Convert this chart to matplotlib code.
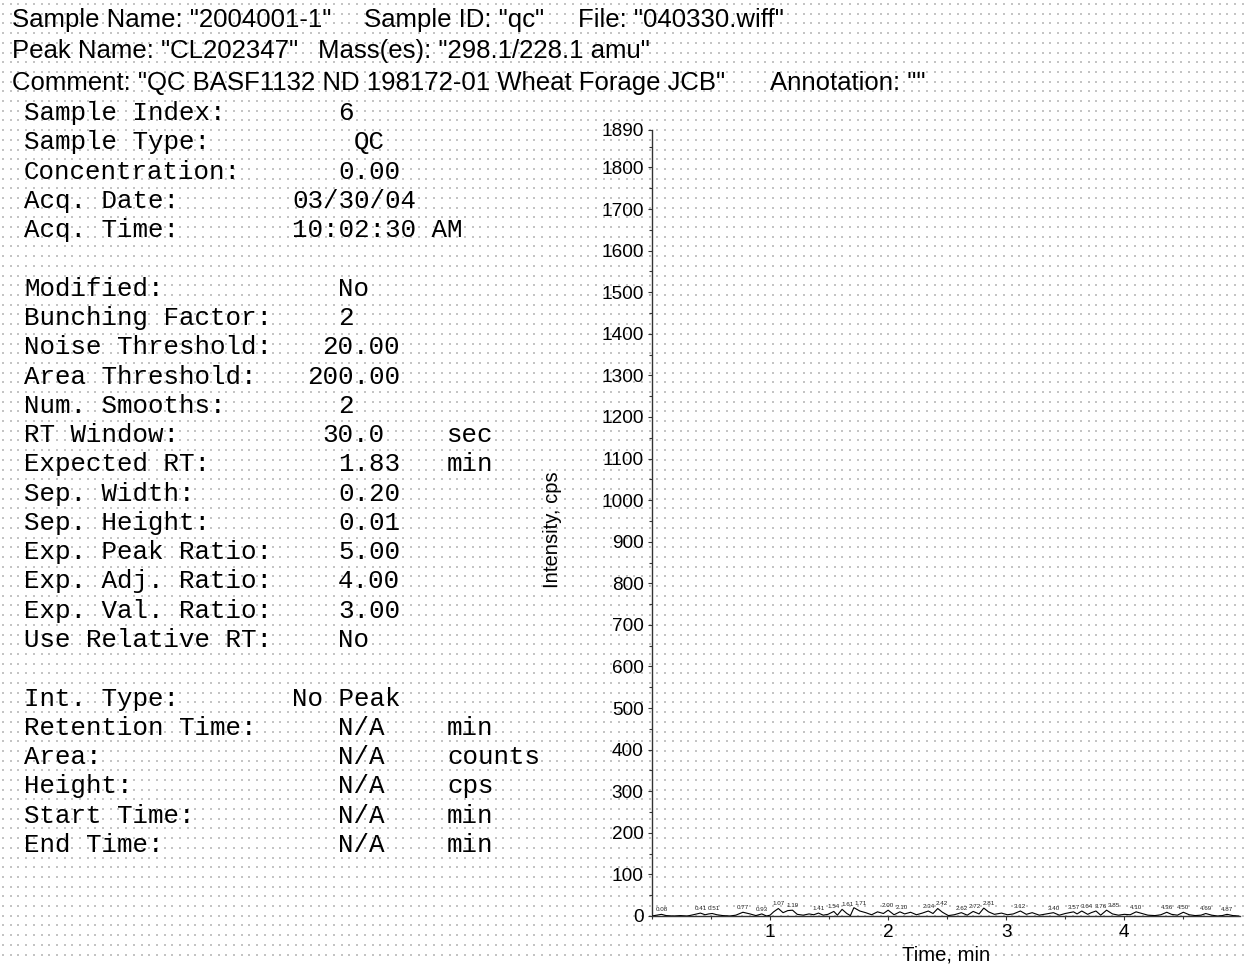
import numpy as np
import matplotlib
matplotlib.use("Agg")
import matplotlib.pyplot as plt
from matplotlib.ticker import MultipleLocator, FixedLocator

W, H = 1244, 964

# header lines: (text, x position in px)
header_rows = [
    [('Sample Name: "2004001-1"', 12), ('Sample ID: "qc"', 364), ('File: "040330.wiff"', 578)],
    [('Peak Name: "CL202347"', 12), ('Mass(es): "298.1/228.1 amu"', 318)],
    [('Comment: "QC BASF1132 ND 198172-01 Wheat Forage JCB"', 12), ('Annotation: ""', 770)],
]
header_y = [20, 51, 83]

# method / result table: label, value, value x, unit
info_labels = ["Sample Index:", "Sample Type:", "Concentration:", "Acq. Date:", "Acq. Time:", "",
               "Modified:", "Bunching Factor:", "Noise Threshold:", "Area Threshold:", "Num. Smooths:",
               "RT Window:", "Expected RT:", "Sep. Width:", "Sep. Height:", "Exp. Peak Ratio:",
               "Exp. Adj. Ratio:", "Exp. Val. Ratio:", "Use Relative RT:", "",
               "Int. Type:", "Retention Time:", "Area:", "Height:", "Start Time:", "End Time:"]
info_values = ["6", "QC", "0.00", "03/30/04", "10:02:30 AM", "",
               "No", "2", "20.00", "200.00", "2",
               "30.0", "1.83", "0.20", "0.01", "5.00",
               "4.00", "3.00", "No", "",
               "No Peak", "N/A", "N/A", "N/A", "N/A", "N/A"]
info_value_x = [338, 354, 338, 292, 292, 0,
                338, 338, 322, 307, 338,
                322, 338, 338, 338, 338,
                338, 338, 338, 0,
                292, 338, 338, 338, 338, 338]
info_units = ["", "", "", "", "", "",
              "", "", "", "", "",
              "sec", "min", "", "", "",
              "", "", "", "",
              "", "min", "counts", "cps", "min", "min"]

# chromatogram trace (time in min, intensity in cps)
trace_time = [0.00, 0.04, 0.08, 0.12, 0.18, 0.24, 0.30, 0.35, 0.41, 0.45, 0.48, 0.51, 0.55, 0.60,
              0.66, 0.71, 0.77, 0.83, 0.88, 0.93, 0.97, 1.00, 1.03, 1.07, 1.11, 1.15, 1.19, 1.23,
              1.28, 1.33, 1.37, 1.41, 1.45, 1.49, 1.54, 1.57, 1.61, 1.65, 1.68, 1.71, 1.76, 1.81,
              1.86, 1.91, 1.96, 2.00, 2.05, 2.10, 2.14, 2.19, 2.24, 2.29, 2.34, 2.38, 2.42, 2.46,
              2.51, 2.56, 2.62, 2.67, 2.72, 2.77, 2.81, 2.85, 2.90, 2.96, 3.01, 3.06, 3.12, 3.17,
              3.22, 3.28, 3.34, 3.40, 3.45, 3.50, 3.57, 3.60, 3.64, 3.69, 3.72, 3.76, 3.80, 3.85,
              3.90, 3.95, 4.00, 4.05, 4.10, 4.15, 4.20, 4.26, 4.31, 4.36, 4.40, 4.45, 4.50, 4.55,
              4.60, 4.65, 4.69, 4.74, 4.79, 4.83, 4.87, 4.92, 4.97]
trace_cps = [0, 2, 4, 1, 0, 1, 0, 3, 7, 3, 5, 6, 3, 1,
             0, 2, 9, 5, 1, 5, 0, 2, 10, 18, 8, 13, 14, 4,
             2, 5, 3, 7, 2, 4, 11, 2, 16, 6, 1, 20, 12, 8,
             3, 10, 6, 14, 3, 10, 5, 9, 3, 7, 12, 6, 18, 9,
             1, 3, 8, 2, 11, 5, 19, 10, 4, 7, 3, 5, 12, 4,
             8, 2, 5, 8, 2, 6, 10, 5, 12, 4, 8, 12, 2, 14,
             5, 2, 4, 3, 10, 6, 2, 1, 3, 9, 4, 2, 9, 3,
             1, 2, 6, 2, 0, 1, 4, 1, 0]

peak_times = [0.08, 0.41, 0.51, 0.77, 0.93, 1.07, 1.19, 1.41, 1.54, 1.61, 1.71, 2.00, 2.10,
              2.34, 2.42, 2.62, 2.72, 2.81, 3.12, 3.40, 3.57, 3.64, 3.76, 3.85, 4.10, 4.36,
              4.50, 4.69, 4.87]

y_ticks = list(range(0, 1900, 100)) + [1890]

fig = plt.figure(figsize=(W / 100, H / 100), dpi=100)
fig.patch.set_facecolor("white")

# dotted background
bg = fig.add_axes([0, 0, 1, 1], zorder=-1)
bg.set_xlim(0, W)
bg.set_ylim(H, 0)
bg.axis("off")
gx, gy = np.meshgrid(np.arange(3, W, 7.7), np.arange(4, H, 9.7))
bg.scatter(gx.ravel(), gy.ravel(), s=1.0, marker="s", color="#c4c4c4", linewidths=0)


def put(x, y, s, **kw):
    fig.text(x / W, 1 - y / H, s, va="center", ha="left", **kw)


sans = "Liberation Sans"
mono = "Liberation Mono"

for row, y in zip(header_rows, header_y):
    for s, x in row:
        put(x, y, s, family=sans, fontsize=18.5)

row_y = 113.0
for lab, val, vx, unit in zip(info_labels, info_values, info_value_x, info_units):
    if lab:
        put(24, row_y, lab, family=mono, fontsize=18.6)
        put(vx, row_y, val, family=mono, fontsize=18.6)
        if unit:
            put(447, row_y, unit, family=mono, fontsize=18.6)
    row_y += 29.28

# chromatogram
ax_w = 588
ax = fig.add_axes([652 / W, 1 - 916 / H, ax_w / W, 786 / H])
ax.set_facecolor("none")
ax.plot(trace_time, trace_cps, color="black", lw=0.8, zorder=3)
ax.set_xlim(0, 4.98)
ax.set_ylim(0, 1890)

# peak labels, nudged sideways so neighbours do not collide
px_per_min = ax_w / 4.98
min_gap = 13.5
last_x = -100
for t in peak_times:
    x = t * px_per_min
    lx = max(x, last_x + min_gap)
    last_x = lx
    yv = np.interp(t, trace_time, trace_cps)
    ax.annotate(f"{t:.2f}", (t, yv), xytext=((lx - x) * 0.72, 1.5), textcoords="offset points",
                ha="center", va="bottom", fontsize=4.5, family=sans, color="#222222")

for side in ("top", "right"):
    ax.spines[side].set_visible(False)
for side in ("left", "bottom"):
    ax.spines[side].set_color("#333333")
    ax.spines[side].set_linewidth(1.0)

ax.xaxis.set_major_locator(FixedLocator([1, 2, 3, 4]))
ax.xaxis.set_minor_locator(MultipleLocator(0.5))
ax.yaxis.set_major_locator(FixedLocator(y_ticks))
ax.yaxis.set_minor_locator(MultipleLocator(50))
ax.tick_params(axis="both", which="major", length=3, width=0.8, color="#333333",
               labelsize=13.7, pad=3)
ax.tick_params(axis="both", which="minor", length=2, width=0.8, color="#333333")
for lab in ax.get_xticklabels() + ax.get_yticklabels():
    lab.set_family(sans)

ax.set_xlabel("Time, min", family=sans, fontsize=14.6)
ax.xaxis.set_label_coords(0.5, -0.0496)
ax.xaxis.label.set_va("center")
ax.set_ylabel("Intensity, cps", family=sans, fontsize=14.6)
ax.yaxis.set_label_coords(-0.170, 0.491)
ax.yaxis.label.set_va("center")

fig.savefig("out.png", dpi=100, facecolor="white")
